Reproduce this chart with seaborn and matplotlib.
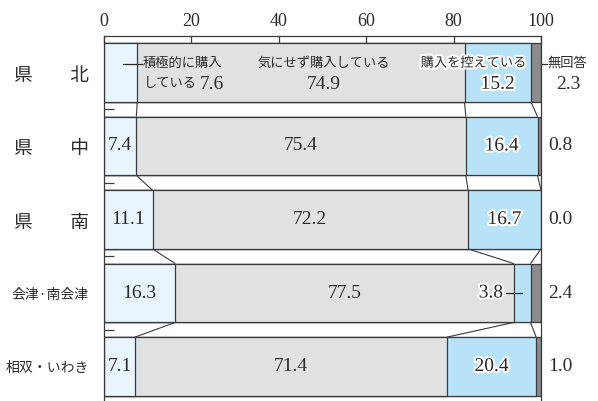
import matplotlib
matplotlib.use("Agg")
import matplotlib.pyplot as plt
import matplotlib.patheffects as pe
import pandas as pd
import seaborn as sns

# Survey results by region (%)
regions = ["県　　北", "県　　中", "県　　南", "会津·南会津", "相双・いわき"]
active = [7.6, 7.4, 11.1, 16.3, 7.1]          # 積極的に購入している
regardless = [74.9, 75.4, 72.2, 77.5, 71.4]   # 気にせず購入している
refrain = [15.2, 16.4, 16.7, 3.8, 20.4]       # 購入を控えている
no_answer = [2.3, 0.8, 0.0, 2.4, 1.0]         # 無回答
x_ticks = [0, 20, 40, 60, 80, 100]

sns.set_theme(style="white")
plt.rcParams["font.family"] = ["Liberation Serif", "Noto Sans CJK JP"]

INK = "#2b2b2b"
EDGE = "#3a3a3a"
COLORS = {"c4": "#8c8c8e", "c3": "#b8e2f7", "c2": "#e0e1e3", "c1": "#e8f5fc"}

df = pd.DataFrame({"region": regions, "active": active, "regardless": regardless,
                   "refrain": refrain, "no_answer": no_answer})
df["c1"] = df["active"]
df["c2"] = df["c1"] + df["regardless"]
df["c3"] = df["c2"] + df["refrain"]
df["c4"] = df["c3"] + df["no_answer"]

fig = plt.figure(figsize=(5.98, 4.01), dpi=100)
ax = fig.add_axes([104 / 598, 0.0, 437 / 598, (401 - 35.75) / 401])

# stacked bars: draw cumulative totals from the longest to the shortest
for col in ["c4", "c3", "c2", "c1"]:
    sns.barplot(data=df, x=col, y="region", order=regions, color=COLORS[col],
                saturation=1, width=0.8, edgecolor=EDGE, linewidth=0.9, ax=ax)

ax.set_xlim(0, 100)
ax.set_ylim(4.5 - 2.25 / 73.5, -0.5)
ax.set_xlabel("")
ax.set_ylabel("")

# connector lines between neighbouring bars
n = len(regions)
for i in range(n - 1):
    for col in ["c1", "c2", "c3"]:
        ax.plot([df[col][i], df[col][i + 1]], [i + 0.4, i + 0.6],
                color=EDGE, lw=0.8, solid_capstyle="butt")

# axes frame and ticks
for side in ["top", "left", "right"]:
    ax.spines[side].set_visible(True)
    ax.spines[side].set_color(EDGE)
    ax.spines[side].set_linewidth(0.9)
ax.spines["bottom"].set_visible(False)

ax.xaxis.tick_top()
ax.set_xticks(x_ticks)
ax.set_xticklabels([str(t) for t in x_ticks])
ax.tick_params(axis="x", which="major", direction="in", length=5.5, width=0.9,
               color=EDGE, pad=4, labelsize=13, labelcolor=INK,
               top=True, labeltop=True, bottom=False, labelbottom=False)
ax.set_yticks(range(n))
ax.set_yticks([i + 0.5 for i in range(n - 1)], minor=True)
ax.tick_params(axis="y", which="major", length=0, pad=11, labelcolor=INK)
ax.tick_params(axis="y", which="minor", direction="in", length=7, width=0.9,
               color=EDGE, left=True)
ax.set_yticklabels(regions)
for i, lab in enumerate(ax.get_yticklabels()):
    lab.set_fontfamily(["Noto Sans CJK JP"])
    lab.set_fontsize(13.5 if i < 3 else 10)

num_kw = dict(color=INK, fontsize=14, va="center")
jp_kw = dict(color=INK, fontsize=9.5, va="center")
halo = [pe.withStroke(linewidth=3, foreground="white")]

# value labels
for i in range(n):
    if i == 0:
        continue
    ax.text(df["c1"][i] / 2, i, f"{active[i]:.1f}", ha="center", **num_kw)
    ax.text(df["c1"][i] + regardless[i] / 2, i, f"{regardless[i]:.1f}",
            ha="center", **num_kw)
    if i == 3:
        ax.text(91.3, i, f"{refrain[i]:.1f}", ha="right", path_effects=halo, **num_kw)
        ax.plot([92.0, 95.7], [i, i], color=INK, lw=0.9)
    else:
        ax.text(df["c2"][i] + refrain[i] / 2, i, f"{refrain[i]:.1f}", ha="center",
                path_effects=halo, **num_kw)
    ax.text(101.6, i, f"{no_answer[i]:.1f}", ha="left", clip_on=False, **num_kw)

# first row carries the category names
up, low = -0.12, 0.16
ax.plot([4.4, 8.7], [up, up], color=INK, lw=0.9)
ax.text(8.9, up, "積極的に購入", ha="left", **jp_kw)
ax.text(9.2, low, "している", ha="left", **jp_kw)
ax.text(22.0, low, f"{active[0]:.1f}", ha="left", **num_kw)

ax.text(50.2, up, "気にせず購入している", ha="center", **jp_kw)
ax.text(50.2, low, f"{regardless[0]:.1f}", ha="center", **num_kw)

ax.text(84.6, up, "購入を控えている", ha="center", path_effects=halo, **jp_kw)
ax.text(df["c2"][0] + refrain[0] / 2, low, f"{refrain[0]:.1f}", ha="center",
        path_effects=halo, **num_kw)

ax.plot([100, 101.4], [up, up], color=INK, lw=0.9, clip_on=False)
ax.text(101.5, up, "無回答", ha="left", clip_on=False, **jp_kw)
ax.text(106.3, low, f"{no_answer[0]:.1f}", ha="center", clip_on=False, **num_kw)

fig.savefig("out.png", dpi=100)
